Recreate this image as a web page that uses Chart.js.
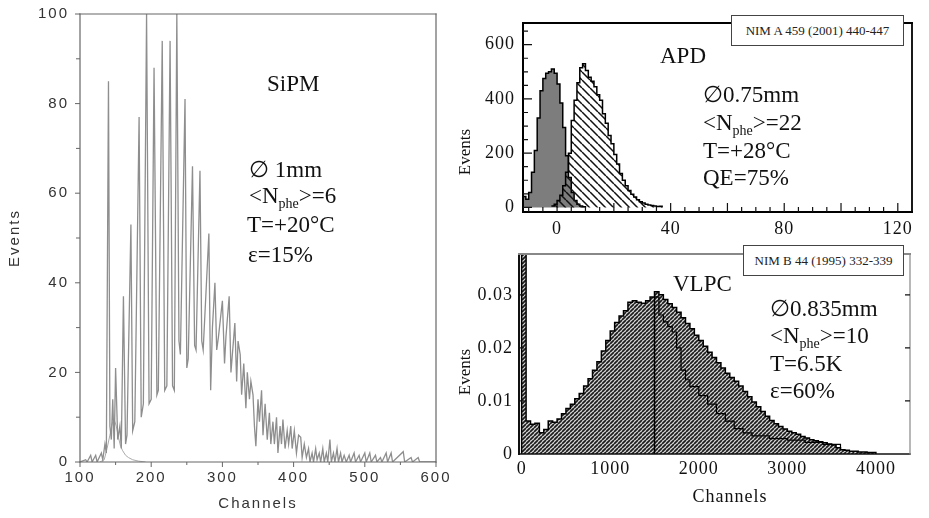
<!DOCTYPE html>
<html>
<head>
<meta charset="utf-8">
<script src="https://cdn.jsdelivr.net/npm/chart.js@4.4.1/dist/chart.umd.min.js"></script>
<style>
  body { margin: 0; background: #fff; }
  #wrap { position: relative; width: 929px; height: 518px; overflow: hidden; background: #fff; }
  canvas { position: absolute; }
  .t { position: absolute; font-family: "Liberation Serif", "Times New Roman", serif; font-size: 23px;
       line-height: 1; color: #111; white-space: nowrap; }
  .t sub { font-size: 14px; vertical-align: -5px; line-height: 0; }
  .ref { position: absolute; box-sizing: border-box; border: 1px solid #444; background: #fff; color: #222;
         font: 13px "Liberation Serif", serif; display: flex; align-items: center; justify-content: center; }
  .vt { position: absolute; width: 90px; height: 20px; line-height: 20px; text-align: center; color: #111;
        font: 17px "Liberation Serif", serif; }
  .rot { transform: rotate(-90deg); }
</style>
</head>
<body>
<div id="wrap">
  <canvas id="sipm" width="460" height="518" style="left:0;top:0"></canvas>
  <canvas id="apd" width="459" height="240" style="left:470px;top:0"></canvas>
  <canvas id="vlpc" width="459" height="278" style="left:470px;top:240px"></canvas>

  <div class="t" style="left:267px;top:72px">SiPM</div>
  <div class="t" style="left:249px;top:158px">∅ 1mm</div>
  <div class="t" style="left:249px;top:184px">&lt;N<sub>phe</sub>&gt;=6</div>
  <div class="t" style="left:247px;top:213px">T=+20°C</div>
  <div class="t" style="left:248px;top:243px">ε=15%</div>

  <div class="ref" style="left:731px;top:15px;width:173px;height:31px">NIM A 459 (2001) 440-447</div>
  <div class="t" style="left:660px;top:44px">APD</div>
  <div class="t" style="left:703px;top:83px">∅0.75mm</div>
  <div class="t" style="left:703px;top:111px">&lt;N<sub>phe</sub>&gt;=22</div>
  <div class="t" style="left:703px;top:139px">T=+28°C</div>
  <div class="t" style="left:703px;top:166px">QE=75%</div>
  <div class="vt rot" style="left:420px;top:142px">Events</div>

  <div class="ref" style="left:743px;top:245px;width:161px;height:31px">NIM B 44 (1995) 332-339</div>
  <div class="t" style="left:673px;top:272px">VLPC</div>
  <div class="t" style="left:770px;top:297px">∅0.835mm</div>
  <div class="t" style="left:770px;top:324px">&lt;N<sub>phe</sub>&gt;=10</div>
  <div class="t" style="left:770px;top:352px">T=6.5K</div>
  <div class="t" style="left:770px;top:379px">ε=60%</div>
  <div class="vt rot" style="left:420px;top:362px">Events</div>
  <div class="vt" style="left:685px;top:486px;font-size:18px;letter-spacing:1px">Channels</div>
</div>

<script>
const sipmCh = [
  100, 108, 110, 115, 117, 122, 124, 130, 132, 135,
  137, 140, 142, 144, 146, 148, 150, 153, 156, 158,
  161, 164, 166, 171.5, 174, 177, 183, 186, 189, 193.5,
  197, 200, 204, 208, 210, 215.5, 219, 222, 226.5, 230,
  232.5, 236, 239, 241, 247.5, 250, 252, 258, 261, 263,
  268.5, 271, 273, 281, 283.5, 286, 289.5, 292, 294.5, 300,
  303, 305, 309.5, 312, 314, 317.5, 320, 322, 325, 327,
  330, 333, 335, 338, 340, 343, 345, 347, 350, 352,
  355, 357, 360, 363, 366, 368, 371, 373, 376, 378,
  381, 383, 385, 388, 391, 393, 396, 398, 401, 404,
  407, 410, 412, 415, 418, 421, 423, 426, 428, 431,
  433, 436, 438, 441, 443, 446, 448, 451, 453, 456,
  458, 461, 463, 466, 468, 471, 474, 478, 480, 485,
  487, 492, 494, 500, 502, 507, 509, 515, 517, 522,
  524, 530, 532, 537, 539, 554, 556, 565, 567, 575,
  577, 600
];
const sipmEv = [
  0, 0.5, 0, 1.5, 0, 1.5, 0, 2, 0.5, 4,
  2, 85, 8, 5, 14, 3, 21, 5, 8, 3,
  37, 4, 6, 53, 7, 9, 77, 10, 13, 100,
  13, 14, 88, 15, 16, 94, 16, 17, 94, 17,
  16, 100, 27, 24, 81, 21, 23, 66, 26, 25,
  65, 27, 25, 51, 16, 30, 40, 25, 28, 36,
  22, 28, 37, 20, 24, 31, 18, 27, 24, 15,
  22, 12, 20, 14, 18, 15, 8, 3.5, 14, 9,
  16, 6, 13, 5, 11, 4, 9, 4, 10, 2,
  8, 4, 9.5, 3, 7, 4, 8, 3, 7, 2,
  6, 5.5, 1, 4, 1, 3, 0, 2, 0, 3,
  0.5, 2, 0, 3, 0, 2, 0, 5, 0, 2,
  0, 3, 0, 2, 0, 1.5, 0, 1.5, 0, 2,
  0, 1.5, 0, 2, 0, 2, 0, 1.5, 0, 1,
  0, 2, 0, 2, 0, 2.3, 0, 1, 0, 1,
  0, 0
];
const pedCh = [128, 134, 138, 142, 145, 148, 151, 154, 157, 160, 164, 168, 174, 182, 192];
const pedEv = [0, 0.5, 3, 6, 8.5, 9.5, 8, 5.5, 3.5, 2.5, 1.5, 1, 0.5, 0.2, 0];
const sipmXTicks = [100, 200, 300, 400, 500, 600];
const sipmYTicks = [0, 20, 40, 60, 80, 100];

// ---- APD (top right): 1-channel bins, value at left bin edge
const apdPedX = [-12, -11, -10, -9, -8, -7, -6, -5, -4, -3, -2, -1, 0, 1, 2, 3, 4, 5, 6, 7, 8, 9, 10];
const apdPedY = [40, 30, 55, 130, 210, 330, 430, 475, 495, 500, 510, 495, 455, 385, 295, 190, 110, 55, 25, 12, 5, 2, 0];
const apdSigX = [-2, -1, 0, 1, 2, 3, 4, 5, 6, 7, 8, 9, 10, 11, 12, 13, 14, 15, 16, 17,
                 18, 19, 20, 21, 22, 23, 24, 25, 26, 27, 28, 29, 30, 31, 32, 33, 34, 35, 36, 37];
const apdSigY = [5, 12, 25, 45, 80, 130, 200, 320, 395, 460, 515, 530, 505, 480, 465, 445, 415, 395, 345, 310,
                 265, 235, 195, 160, 125, 100, 80, 62, 48, 38, 28, 21, 16, 12, 9, 7, 5, 3, 4, 0];
const apdXTicks = [0, 40, 80, 120];
const apdYTicks = [0, 200, 400, 600];

// ---- VLPC (bottom right): 50-channel bins, value at left bin edge
const vlpcX = [
  0, 0, 50, 100, 150, 200, 250, 300, 350, 400,
  450, 500, 550, 600, 650, 700, 750, 800, 850, 900,
  950, 1000, 1050, 1100, 1150, 1200, 1250, 1300, 1350, 1400,
  1450, 1500, 1550, 1600, 1650, 1700, 1750, 1800, 1850, 1900,
  1950, 2000, 2050, 2100, 2150, 2200, 2250, 2300, 2350, 2400,
  2450, 2500, 2550, 2600, 2650, 2700, 2750, 2800, 2850, 2900,
  2950, 3000, 3050, 3100, 3150, 3200, 3250, 3300, 3350, 3400,
  3450, 3500, 3550, 3600, 3650, 3700, 3750, 3800, 3850, 3900,
  3950, 4000
];
const vlpcY = [
  0, 0.045, 0.0062, 0.0056, 0.0058, 0.0040, 0.0046, 0.0062, 0.0060, 0.0066,
  0.0076, 0.0086, 0.0094, 0.0104, 0.0114, 0.0128, 0.0142, 0.0158, 0.0174, 0.0194,
  0.0214, 0.0232, 0.0248, 0.0260, 0.0270, 0.0286, 0.0289, 0.0286, 0.0284, 0.0289,
  0.0296, 0.0306, 0.0300, 0.0291, 0.0283, 0.0276, 0.0267, 0.0257, 0.0246, 0.0236,
  0.0224, 0.0214, 0.0203, 0.0192, 0.0182, 0.0172, 0.0162, 0.0152, 0.0144, 0.0137,
  0.0128, 0.0118, 0.0108, 0.0098, 0.0089, 0.0080, 0.0071, 0.0063, 0.0057, 0.0052,
  0.0047, 0.0043, 0.0040, 0.0037, 0.0033, 0.0030, 0.0027, 0.0025, 0.0023, 0.0021,
  0.0019, 0.0017, 0.0012, 0.0008, 0.0007, 0.0005, 0.0005, 0.0004, 0.0004, 0.0003,
  0.0003, 0
];
const vlpcInX = [1500, 1550, 1600, 1650, 1700, 1750, 1800, 1850, 1900, 2000, 2100,
                 2200, 2300, 2400, 2500, 2600, 2800, 3000, 3200, 3400, 3600];
const vlpcInY = [0.0296, 0.0262, 0.0249, 0.0240, 0.0230, 0.0200, 0.0158, 0.0140, 0.0127, 0.0110, 0.0094,
                 0.0076, 0.0062, 0.0048, 0.0040, 0.0034, 0.0029, 0.0026, 0.0022, 0.0018, 0.0008];
const vlpcCut = [1500, 0.0296];
const vlpcXTicks = [0, 1000, 2000, 3000, 4000];
const vlpcYTicks = [0, 0.01, 0.02, 0.03];

const xy = (xs, ys) => xs.map((x, i) => ({x, y: ys[i]}));
const SANS = '"Liberation Sans", Arial, sans-serif';
const SERIF = '"Liberation Serif", "Times New Roman", serif';

function hatch(size, bg, fg, lw, up) {
  const c = document.createElement('canvas');
  c.width = c.height = size;
  const g = c.getContext('2d');
  if (bg) { g.fillStyle = bg; g.fillRect(0, 0, size, size); }
  g.strokeStyle = fg; g.lineWidth = lw; g.beginPath();
  for (const k of [-size, 0, size]) {
    if (up) { g.moveTo(k, size); g.lineTo(k + size, 0); }
    else { g.moveTo(k, 0); g.lineTo(k + size, size); }
  }
  g.stroke();
  return g.createPattern(c, 'repeat');
}

const spacing = px => ({
  id: 'spacing',
  beforeUpdate(c) { c.ctx.letterSpacing = px; },
  beforeDraw(c) { c.ctx.letterSpacing = px; }
});

// frame + tick marks (positive length = outward, negative = inward)
function marks(cfg) {
  return {
    id: 'marks',
    afterDatasetsDraw(chart) {
      const {ctx, chartArea: a, scales: {x, y}} = chart;
      ctx.save();
      ctx.lineCap = 'square';
      const ends = {
        left: [a.left, a.top, a.left, a.bottom], right: [a.right, a.top, a.right, a.bottom],
        top: [a.left, a.top, a.right, a.top], bottom: [a.left, a.bottom, a.right, a.bottom]
      };
      for (const [side, color, w] of cfg.frame) {
        const [x0, y0, x1, y1] = ends[side];
        ctx.strokeStyle = color; ctx.lineWidth = w;
        ctx.beginPath(); ctx.moveTo(x0, y0); ctx.lineTo(x1, y1); ctx.stroke();
      }
      ctx.lineCap = 'butt';
      ctx.strokeStyle = cfg.tickColor; ctx.lineWidth = cfg.tickWidth;
      ctx.beginPath();
      for (const [v, len] of cfg.xMarks || []) {
        const p = x.getPixelForValue(v); ctx.moveTo(p, a.bottom); ctx.lineTo(p, a.bottom + len);
      }
      for (const [v, len] of cfg.yMarks || []) {
        const p = y.getPixelForValue(v); ctx.moveTo(a.left, p); ctx.lineTo(a.left - len, p);
      }
      for (const [v, len] of cfg.y2Marks || []) {
        const p = y.getPixelForValue(v); ctx.moveTo(a.right, p); ctx.lineTo(a.right + len, p);
      }
      ctx.stroke();
      ctx.restore();
    }
  };
}

function axis(min, max, tickVals, size, isX, font, color, pad, title) {
  return {
    type: 'linear', min, max,
    afterBuildTicks: s => { s.ticks = tickVals.map(value => ({value})); },
    afterFit: s => {
      if (isX) { s.height = size; s.paddingLeft = 0; s.paddingRight = 0; }
      else { s.width = size; s.paddingTop = 0; s.paddingBottom = 0; }
    },
    grid: {display: false, drawTicks: false},
    border: {display: false},
    ticks: {padding: pad, color, font, autoSkip: false, maxRotation: 0, callback: v => String(v)},
    title: title || {display: false}
  };
}

const base = pad => ({
  responsive: false, animation: false, events: [],
  layout: {padding: pad},
  elements: {point: {radius: 0}, line: {tension: 0}},
  plugins: {legend: {display: false}, tooltip: {enabled: false}}
});

// ---- SiPM
const sipmXm = [], sipmYm = [];
for (let v = 100; v <= 600; v += 50) sipmXm.push([v, v % 100 === 0 ? 5 : 3]);
for (let v = 0; v <= 100; v += 10) sipmYm.push([v, v % 20 === 0 ? 5 : 4]);
new Chart(document.getElementById('sipm'), {
  type: 'line',
  data: {datasets: [
    {data: xy(sipmCh, sipmEv), borderColor: '#8e8e8e', borderWidth: 1.3},
    {data: xy(pedCh, pedEv), borderColor: '#aaaaaa', borderWidth: 1}
  ]},
  options: Object.assign(base({top: 14, right: 24, left: 0, bottom: 0}), {
    scales: {
      x: axis(100, 600, sipmXTicks, 56, true, {family: SANS, size: 15}, '#333', 7,
        {display: true, text: 'Channels', color: '#333', font: {family: SANS, size: 15}, padding: {top: 0, bottom: 5}}),
      y: axis(0, 100, sipmYTicks, 80, false, {family: SANS, size: 15}, '#333', 11,
        {display: true, text: 'Events', color: '#333', font: {family: SANS, size: 15}, padding: {top: 6, bottom: 0}})
    }
  }),
  plugins: [spacing('2px'), marks({
    frame: [['left', '#666', 1.2], ['bottom', '#666', 1.2], ['top', '#666', 1.2], ['right', '#666', 1.2]],
    tickColor: '#666', tickWidth: 1, xMarks: sipmXm, yMarks: sipmYm
  })]
});

// ---- APD
const apdXm = [], apdYm = [];
for (let v = -10; v <= 120; v += 5) apdXm.push([v, v % 20 === 0 ? -9 : -5]);
for (let v = 0; v <= 650; v += 50) apdYm.push([v, v % 200 === 0 ? -9 : -5]);
new Chart(document.getElementById('apd'), {
  type: 'line',
  data: {datasets: [
    {data: xy(apdSigX, apdSigY), stepped: 'before', borderColor: '#000', borderWidth: 1.5,
     fill: 'origin', backgroundColor: hatch(8, null, '#111', 1.5, false)},
    {data: xy(apdPedX, apdPedY), stepped: 'before', borderColor: '#000', borderWidth: 1.5,
     fill: 'origin', backgroundColor: '#7d7d7d'}
  ]},
  options: Object.assign(base({top: 23, right: 17, left: 0, bottom: 0}), {
    scales: {
      x: axis(-12, 125, apdXTicks, 28, true, {family: SERIF, size: 18}, '#111', 6),
      y: axis(-17, 680, apdYTicks, 53, false, {family: SERIF, size: 18}, '#111', 8)
    }
  }),
  plugins: [spacing('1px'), marks({
    frame: [['left', '#000', 2], ['bottom', '#000', 2], ['top', '#000', 1.8], ['right', '#000', 1.8]],
    tickColor: '#111', tickWidth: 1.2, xMarks: apdXm, yMarks: apdYm
  })]
});

// ---- VLPC
const vlpcYm = vlpcYTicks.slice(1).map(v => [v, -5]);
new Chart(document.getElementById('vlpc'), {
  type: 'line',
  data: {datasets: [
    {data: [{x: vlpcCut[0], y: 0}, {x: vlpcCut[0], y: vlpcCut[1]}], borderColor: '#000', borderWidth: 1.5},
    {data: xy(vlpcInX, vlpcInY), stepped: 'before', borderColor: '#000', borderWidth: 1.2},
    {data: xy(vlpcX, vlpcY), stepped: 'before', borderColor: '#000', borderWidth: 1.5,
     fill: 'origin', backgroundColor: hatch(4, '#d6d6d6', '#1c1c1c', 1.7, true)}
  ]},
  options: Object.assign(base({top: 14, right: 19, left: 0, bottom: 0}), {
    scales: {
      x: axis(-30, 4385, vlpcXTicks, 64, true, {family: SERIF, size: 18}, '#111', 4),
      y: axis(0, 0.0377, vlpcYTicks, 49, false, {family: SERIF, size: 18}, '#111', 6)
    }
  }),
  plugins: [spacing('1px'), marks({
    frame: [['left', '#111', 2], ['bottom', '#111', 1.5], ['top', '#888', 2], ['right', '#888', 1.2]],
    tickColor: '#111', tickWidth: 1.2, yMarks: vlpcYm, y2Marks: vlpcYm
  })]
});
</script>
</body>
</html>
